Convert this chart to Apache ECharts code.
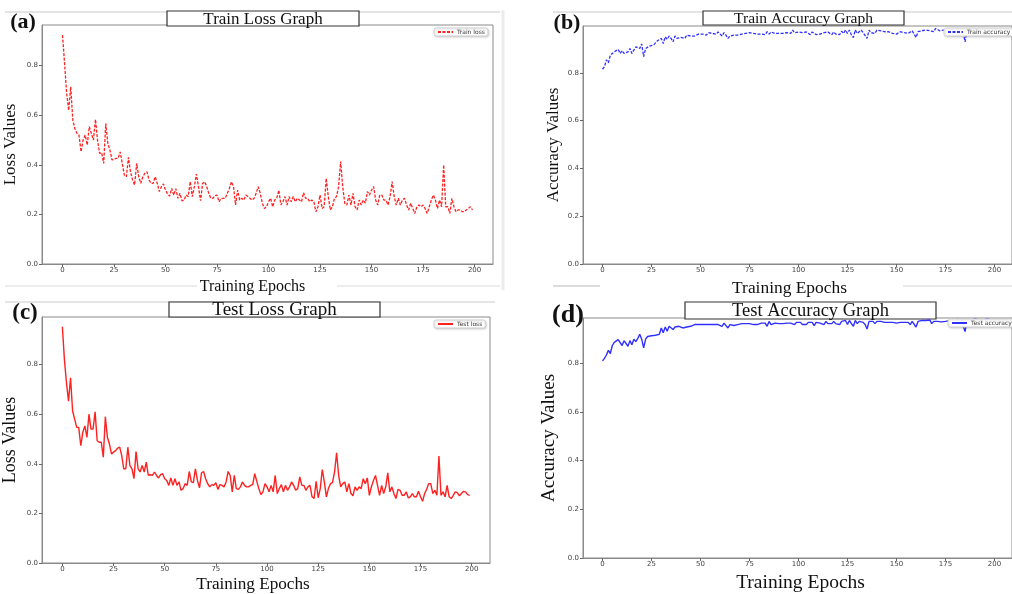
<!DOCTYPE html>
<html>
<head>
<meta charset="utf-8">
<script src="https://cdn.jsdelivr.net/npm/echarts@6/dist/echarts.min.js"></script>
<style>
html,body{margin:0;padding:0;background:#fff;}
#chart{width:1012px;height:594px;}
</style>
</head>
<body>
<div id="chart"></div>
<script>
// ---- data ----
const xTicks = [0, 25, 50, 75, 100, 125, 150, 175, 200];
const yTicks = [0, 0.2, 0.4, 0.6, 0.8];
const panelTitles = ['Train Loss Graph', 'Train Accuracy Graph', 'Test Loss Graph', 'Test Accuracy Graph'];
const panelLabels = ['(a)', '(b)', '(c)', '(d)'];
const seriesNames = ['Train loss', 'Train accuracy', 'Test loss', 'Test accuracy'];
const xAxisName = 'Training Epochs';
const yAxisNames = ['Loss Values', 'Accuracy Values', 'Loss Values', 'Accuracy Values'];

const trainLoss = [0.923,0.81,0.69,0.62,0.715,0.58,0.547,0.527,0.52,0.453,
0.50,0.52,0.48,0.554,0.527,0.50,0.583,0.50,0.446,0.449,
0.406,0.567,0.487,0.46,0.42,0.422,0.426,0.426,0.452,0.406,
0.359,0.352,0.43,0.372,0.339,0.319,0.406,0.352,0.325,0.352,
0.366,0.372,0.339,0.325,0.325,0.352,0.325,0.292,0.312,0.323,
0.298,0.282,0.274,0.305,0.278,0.304,0.265,0.285,0.255,0.258,
0.278,0.272,0.332,0.272,0.312,0.363,0.312,0.255,0.325,0.332,
0.312,0.285,0.265,0.265,0.276,0.278,0.251,0.265,0.265,0.265,
0.285,0.305,0.332,0.312,0.238,0.298,0.258,0.265,0.258,0.278,
0.272,0.265,0.258,0.265,0.285,0.312,0.285,0.245,0.224,0.231,
0.251,0.265,0.231,0.258,0.265,0.298,0.238,0.251,0.272,0.238,
0.272,0.251,0.272,0.251,0.265,0.258,0.251,0.288,0.265,0.265,
0.251,0.258,0.251,0.211,0.231,0.278,0.224,0.231,0.345,0.272,
0.218,0.231,0.265,0.272,0.312,0.413,0.312,0.245,0.238,0.278,
0.238,0.285,0.231,0.218,0.258,0.238,0.258,0.245,0.292,0.278,
0.298,0.312,0.258,0.238,0.278,0.278,0.258,0.258,0.238,0.272,
0.332,0.272,0.238,0.265,0.238,0.258,0.265,0.238,0.218,0.245,
0.224,0.204,0.231,0.238,0.231,0.238,0.224,0.204,0.231,0.258,
0.278,0.258,0.224,0.258,0.231,0.40,0.231,0.231,0.204,0.265,
0.231,0.211,0.218,0.218,0.211,0.211,0.218,0.224,0.231,0.218];

const trainAcc = [0.815,0.826,0.854,0.842,0.874,0.868,0.888,0.881,0.898,0.881,
0.893,0.881,0.874,0.888,0.902,0.881,0.895,0.909,0.916,0.902,
0.921,0.868,0.902,0.909,0.912,0.915,0.916,0.923,0.934,0.926,
0.944,0.923,0.951,0.94,0.954,0.944,0.93,0.954,0.944,0.951,
0.948,0.954,0.944,0.958,0.951,0.954,0.962,0.954,0.958,0.962,
0.954,0.962,0.965,0.958,0.968,0.962,0.965,0.968,0.962,0.971,
0.965,0.954,0.968,0.958,0.944,0.954,0.962,0.958,0.965,0.958,
0.965,0.962,0.968,0.965,0.971,0.968,0.971,0.965,0.968,0.962,
0.965,0.962,0.968,0.96,0.972,0.962,0.971,0.968,0.965,0.962,
0.965,0.968,0.965,0.962,0.968,0.971,0.965,0.979,0.968,0.962,
0.971,0.965,0.968,0.962,0.971,0.965,0.96,0.971,0.965,0.96,
0.968,0.962,0.965,0.968,0.962,0.971,0.965,0.96,0.971,0.962,
0.968,0.96,0.974,0.965,0.979,0.965,0.979,0.958,0.948,0.979,
0.965,0.972,0.979,0.968,0.962,0.944,0.979,0.968,0.976,0.965,
0.979,0.972,0.976,0.968,0.972,0.965,0.972,0.968,0.965,0.968,
0.962,0.958,0.972,0.965,0.968,0.972,0.965,0.972,0.976,0.968,
0.948,0.972,0.968,0.976,0.972,0.979,0.972,0.976,0.982,0.972,
0.986,0.979,0.976,0.972,0.979,0.975,0.982,0.976,0.979,0.972,
0.978,0.982,0.976,0.979,0.972,0.930,0.978,0.982,0.976,0.979,
0.984,0.976,0.979,0.982,0.976,0.98,0.984,0.978,0.981,0.979];

const testLoss = [0.953,0.82,0.727,0.653,0.747,0.613,0.58,0.547,0.547,0.473,
0.527,0.553,0.507,0.60,0.54,0.54,0.61,0.493,0.487,0.487,
0.427,0.59,0.507,0.48,0.44,0.447,0.453,0.463,0.467,0.433,
0.38,0.38,0.467,0.393,0.38,0.34,0.449,0.38,0.367,0.393,
0.367,0.407,0.353,0.356,0.353,0.367,0.353,0.343,0.356,0.36,
0.34,0.333,0.313,0.343,0.313,0.34,0.313,0.327,0.293,0.30,
0.32,0.313,0.369,0.327,0.324,0.38,0.333,0.303,0.364,0.369,
0.34,0.32,0.307,0.316,0.313,0.324,0.297,0.316,0.313,0.307,
0.327,0.369,0.353,0.287,0.353,0.30,0.297,0.307,0.327,0.313,
0.307,0.307,0.313,0.316,0.36,0.329,0.30,0.276,0.287,0.32,
0.307,0.287,0.313,0.287,0.353,0.28,0.30,0.316,0.287,0.313,
0.293,0.307,0.327,0.313,0.293,0.30,0.347,0.313,0.313,0.293,
0.307,0.313,0.267,0.26,0.329,0.263,0.30,0.377,0.327,0.267,
0.30,0.32,0.324,0.367,0.444,0.353,0.307,0.32,0.327,0.287,
0.32,0.28,0.271,0.307,0.293,0.307,0.30,0.34,0.32,0.343,
0.273,0.307,0.333,0.353,0.313,0.273,0.313,0.28,0.307,0.364,
0.287,0.307,0.28,0.26,0.297,0.293,0.273,0.273,0.287,0.263,
0.267,0.28,0.267,0.267,0.289,0.267,0.249,0.28,0.297,0.32,
0.32,0.28,0.293,0.273,0.431,0.273,0.287,0.267,0.313,0.267,
0.26,0.273,0.287,0.284,0.271,0.28,0.289,0.287,0.276,0.273];

const testAcc = [0.81,0.82,0.834,0.853,0.84,0.873,0.886,0.88,0.897,0.889,
0.873,0.893,0.886,0.87,0.893,0.876,0.899,0.889,0.902,0.919,
0.899,0.863,0.899,0.91,0.906,0.913,0.913,0.915,0.923,0.919,
0.945,0.925,0.949,0.932,0.952,0.959,0.939,0.949,0.941,0.952,
0.945,0.945,0.952,0.949,0.955,0.952,0.955,0.959,0.952,0.959,
0.955,0.959,0.965,0.959,0.963,0.959,0.965,0.959,0.965,0.959,
0.963,0.952,0.965,0.959,0.945,0.959,0.965,0.955,0.963,0.959,
0.965,0.963,0.965,0.963,0.968,0.963,0.965,0.959,0.965,0.959,
0.963,0.965,0.959,0.965,0.952,0.972,0.959,0.963,0.965,0.959,
0.963,0.965,0.963,0.959,0.965,0.959,0.965,0.972,0.959,0.968,
0.963,0.968,0.959,0.965,0.959,0.968,0.963,0.968,0.955,0.968,
0.972,0.965,0.968,0.959,0.972,0.963,0.968,0.963,0.972,0.963,
0.968,0.959,0.972,0.965,0.976,0.959,0.976,0.963,0.952,0.976,
0.963,0.972,0.965,0.968,0.959,0.941,0.972,0.965,0.972,0.963,
0.972,0.968,0.972,0.965,0.968,0.963,0.968,0.963,0.968,0.963,
0.965,0.959,0.968,0.963,0.968,0.963,0.968,0.959,0.972,0.965,
0.949,0.972,0.965,0.976,0.968,0.976,0.968,0.978,0.963,0.972,
0.978,0.972,0.975,0.97,0.978,0.972,0.98,0.975,0.978,0.97,
0.976,0.98,0.974,0.978,0.97,0.93,0.976,0.98,0.974,0.978,
0.982,0.975,0.978,0.98,0.974,0.978,0.982,0.976,0.979,0.977];

// ---- layout ----
const grids = [
  {left: 42, top: 25, width: 451, height: 239},
  {left: 583, top: 26, width: 435, height: 238},
  {left: 42, top: 317, width: 448, height: 248},
  {left: 583, top: 318, width: 435, height: 250}
];
const yMax = [0.964, 0.996, 0.992, 0.986];
const colors = ['#ff2020', '#3030ff', '#ff2020', '#3030ff'];
const dashed = [true, true, false, false];
const allData = [trainLoss, trainAcc, testLoss, testAcc];
const titleBoxes = [
  {x: 167, y: 11, w: 192, h: 15, fs: 17},
  {x: 703, y: 11, w: 201, h: 14, fs: 15.5},
  {x: 169, y: 302, w: 211, h: 15, fs: 19},
  {x: 685, y: 302, w: 251, h: 17, fs: 18.5}
];
const labelPos = [
  {x: 23, y: 22, fs: 22},
  {x: 567, y: 23, fs: 22},
  {x: 25, y: 313, fs: 23},
  {x: 568, y: 315, fs: 26}
];
const xNameGap = [15, 16, 13, 15];
const xNameSize = [16, 17.4, 17.2, 19.5];
const xNamePad = [[0, 30, 0, 0], [0, 16, 0, 0], [0, 26, 0, 0], [0, 0, 0, 6]];
const yNameGap = [23, 21, 23, 24];
const yNameSize = [17, 17, 18, 19];
const legendPos = [
  {left: 434, top: 28},
  {left: 944, top: 28},
  {left: 434, top: 320},
  {left: 948, top: 319}
];

const serif = 'Liberation Serif';
const chart = echarts.init(document.getElementById('chart'), null, {renderer: 'canvas'});

const option = {
  backgroundColor: '#fff',
  animation: false,
  grid: grids.map(g => Object.assign({show: true, borderColor: '#8a8a8a', borderWidth: 1, backgroundColor: 'transparent', containLabel: false}, g)),
  xAxis: grids.map((g, i) => ({
    gridIndex: i, type: 'value', min: -9.95, max: 208.95,
    name: xAxisName, nameLocation: 'middle', nameGap: xNameGap[i],
    nameTextStyle: {fontFamily: serif, fontSize: xNameSize[i], color: '#111', padding: xNamePad[i]},
    axisLine: {show: true, onZero: false, lineStyle: {color: '#8a8a8a', width: 1}},
    axisTick: {show: true, length: 3, lineStyle: {color: '#666'}, customValues: xTicks},
    axisLabel: {fontFamily: 'DejaVu Sans', fontSize: 7, color: '#444', margin: 3, customValues: xTicks,
      formatter: v => String(Math.round(v))},
    splitLine: {show: false}
  })),
  yAxis: grids.map((g, i) => ({
    gridIndex: i, type: 'value', min: 0, max: yMax[i],
    name: yAxisNames[i], nameLocation: 'middle', nameGap: yNameGap[i], nameRotate: 90,
    nameTextStyle: {fontFamily: serif, fontSize: yNameSize[i], color: '#111'},
    axisLine: {show: true, onZero: false, lineStyle: {color: '#8a8a8a', width: 1}},
    axisTick: {show: true, length: 3, lineStyle: {color: '#666'}, customValues: yTicks},
    axisLabel: {fontFamily: 'DejaVu Sans', fontSize: 7, color: '#444', margin: 4, customValues: yTicks,
      formatter: v => v.toFixed(1)},
    splitLine: {show: false}
  })),
  legend: legendPos.map((p, i) => ({
    data: [seriesNames[i]], left: p.left, top: p.top, orient: 'vertical',
    itemWidth: 15, itemHeight: 6, itemGap: 2,
    padding: [1, 3, 1, 3],
    itemStyle: {opacity: 0},
    backgroundColor: '#fff', borderColor: '#d0d0d0', borderWidth: 1, borderRadius: 2,
    shadowColor: 'rgba(0,0,0,0.15)', shadowBlur: 2, shadowOffsetX: 1, shadowOffsetY: 1,
    textStyle: {fontFamily: 'DejaVu Sans', fontSize: 6, color: '#333', padding: [0, 0, 0, -1]},
    selectedMode: false
  })),
  series: allData.map((d, i) => ({
    name: seriesNames[i], type: 'line', xAxisIndex: i, yAxisIndex: i,
    data: d.map((v, k) => [k, v]),
    symbol: 'none', showSymbol: false,
    lineStyle: {color: colors[i], width: dashed[i] ? 1.3 : 1.4, type: dashed[i] ? [3, 1.5] : 'solid'},
    itemStyle: {color: colors[i]},
    z: 3
  })),
  graphic: [
    // faint frame lines of the pasted sub-figures
    {type: 'line', shape: {x1: 5, y1: 12, x2: 500, y2: 12}, style: {stroke: '#e4e4e4', lineWidth: 2}, z: 0},
    {type: 'line', shape: {x1: 5, y1: 286, x2: 197, y2: 286}, style: {stroke: '#ececec', lineWidth: 2}, z: 0},
    {type: 'line', shape: {x1: 337, y1: 286, x2: 500, y2: 286}, style: {stroke: '#ececec', lineWidth: 2}, z: 0},
    {type: 'line', shape: {x1: 553, y1: 12, x2: 1012, y2: 12}, style: {stroke: '#e4e4e4', lineWidth: 2}, z: 0},
    {type: 'line', shape: {x1: 553, y1: 286, x2: 600, y2: 286}, style: {stroke: '#cfcfcf', lineWidth: 1.5}, z: 0},
    {type: 'line', shape: {x1: 903, y1: 286, x2: 1012, y2: 286}, style: {stroke: '#e4e4e4', lineWidth: 1.5}, z: 0},
    {type: 'line', shape: {x1: 503, y1: 10, x2: 503, y2: 290}, style: {stroke: '#ececec', lineWidth: 3}, z: 0},
    {type: 'line', shape: {x1: 5, y1: 302, x2: 495, y2: 302}, style: {stroke: '#dcdcdc', lineWidth: 1.5}, z: 0}
  ].concat(titleBoxes.map((b, i) => ({
    type: 'group', z: 10,
    children: [
      {type: 'rect', shape: {x: b.x, y: b.y, width: b.w, height: b.h},
        style: {fill: '#fff', stroke: '#333', lineWidth: 1.2}},
      {type: 'text', x: b.x + b.w / 2, y: b.y + b.h / 2 + 1,
        style: {text: panelTitles[i], fontFamily: serif, fontSize: b.fs, fill: '#111', align: 'center', verticalAlign: 'middle'}}
    ]
  }))).concat(labelPos.map((p, i) => ({
    type: 'text', z: 10, x: p.x, y: p.y,
    style: {text: panelLabels[i], fontFamily: serif, fontSize: p.fs, fontWeight: 'bold', fill: '#111', align: 'center', verticalAlign: 'middle'}
  })))
};
chart.setOption(option);
</script>
</body>
</html>
